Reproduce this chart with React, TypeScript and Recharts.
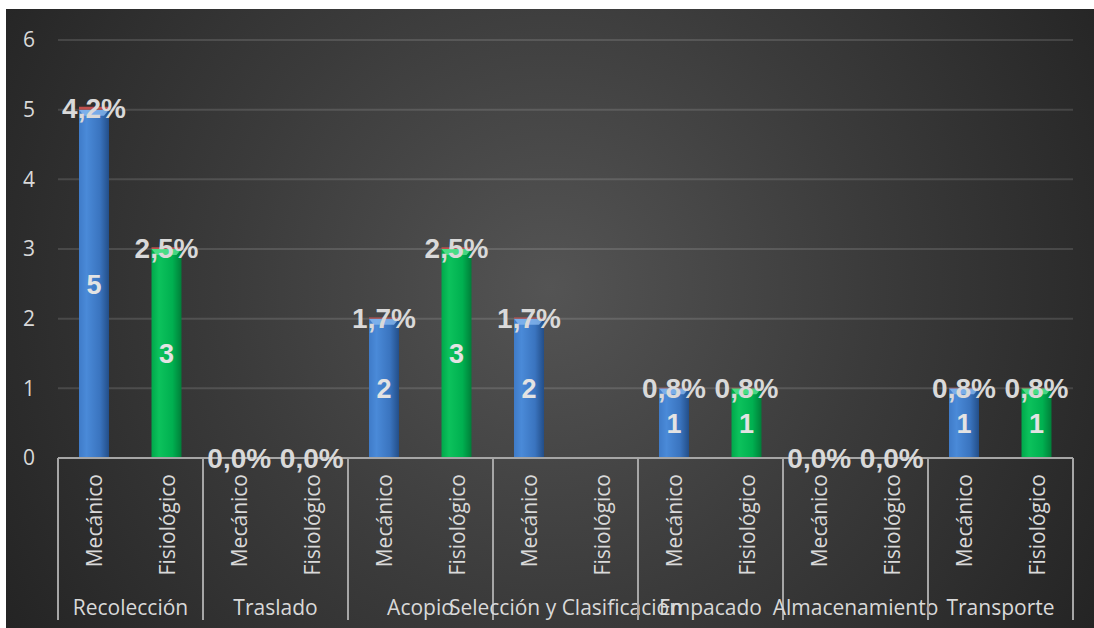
import { BarChart, Bar, XAxis, YAxis, CartesianGrid, LabelList, Cell } from 'recharts'

const STAGES = ['Recolección', 'Traslado', 'Acopio', 'Selección y Clasificación', 'Empacado', 'Almacenamiento', 'Transporte']
const TYPES = ['Mecánico', 'Fisiológico']
// one entry per stage x type, in order
const COUNTS: (number | null)[] = [5, 3, 0, 0, 2, 3, 2, null, 1, 1, 0, 0, 1, 1]
const PERCENTS: (number | null)[] = [4.2, 2.5, 0, 0, 1.7, 2.5, 1.7, null, 0.8, 0.8, 0, 0, 0.8, 0.8]
const Y_TICKS = [0, 1, 2, 3, 4, 5, 6]

const W = 1088
const H = 619
const MARGIN = { top: 31, right: 21, left: 0, bottom: 0 }
const Y_W = 52
const PLOT_W = W - MARGIN.left - MARGIN.right - Y_W
const TEXT = '#d9d9d9'
const LINE = '#a6a6a6'
const BOLD = "'Liberation Sans', Arial, sans-serif"

const data = COUNTS.map((c, i) => ({
  key: `${STAGES[Math.floor(i / 2)]}-${TYPES[i % 2]}`,
  stage: STAGES[Math.floor(i / 2)],
  type: TYPES[i % 2],
  count: c,
  pct: PERCENTS[i],
  pctBar: PERCENTS[i] == null ? null : (PERCENTS[i] as number) / 100,
}))

const fmtPct = (v: number) => `${v.toFixed(1).replace('.', ',')}%`

function CylBar(props: any) {
  const { x, y, width, height, index } = props
  if (!height || height <= 0) return null
  const mech = index % 2 === 0
  const b = Math.min(6, height / 2)
  return (
    <g>
      <rect x={x} y={y} width={width} height={height} fill={`url(#${mech ? 'gBlue' : 'gGreen'})`} />
      <polygon
        points={`${x},${y} ${x + width},${y} ${x + width - 5},${y + b} ${x + 5},${y + b}`}
        fill={mech ? '#8cbcf2' : '#5fe896'}
        opacity={0.75}
      />
    </g>
  )
}

function InsideLabel(props: any) {
  const { x, y, width, height, value } = props
  if (value == null || value === 0) return null
  return (
    <text x={x + width / 2} y={y + height / 2} dy="0.36em" textAnchor="middle" fill="#e3e3e3"
      fontFamily={BOLD} fontWeight="bold" fontSize={27}>
      {value}
    </text>
  )
}

function PctLabel(props: any) {
  const { x, y, width, height, value } = props
  if (value == null || value === 0) return null
  return (
    <text x={x + width / 2} y={y + height / 2} dy="0.36em" textAnchor="middle" fill={TEXT}
      fontFamily={BOLD} fontWeight="bold" fontSize={28}>
      {fmtPct(Number(value))}
    </text>
  )
}

function CategoryTick(props: any) {
  const { x, y, index } = props
  const band = PLOT_W / data.length
  const row = data[index]
  if (!row) return null
  const font = { fontFamily: "'Open Sans', sans-serif", fontSize: 21, fill: TEXT }
  return (
    <g>
      <text transform={`translate(${x + 8},${y + 16}) rotate(-90)`} textAnchor="end" {...font}>
        {row.type}
      </text>
      {index % 2 === 0 && (
        <>
          <line x1={x - band / 2} x2={x - band / 2} y1={y} y2={y + 162} stroke={LINE} strokeWidth={2} />
          <text x={x + band / 2} y={y + 157} textAnchor="middle" {...font}>{row.stage}</text>
        </>
      )}
      {index === data.length - 1 && (
        <line x1={x + band / 2} x2={x + band / 2} y1={y} y2={y + 162} stroke={LINE} strokeWidth={2} />
      )}
      {row.pct === 0 && (
        <text x={x} y={y} dy="0.36em" textAnchor="middle" fill={TEXT}
          fontFamily={BOLD} fontWeight="bold" fontSize={28}>
          {fmtPct(0)}
        </text>
      )}
    </g>
  )
}

export default function App() {
  return (
    <div style={{
      position: 'absolute', left: 6, top: 9, width: W, height: H,
      background: 'radial-gradient(circle 640px at 50% 45%, #545454 0%, #3b3b3b 50%, #242424 100%)',
    }}>
      <BarChart width={W} height={H} data={data} margin={MARGIN}>
        <defs>
          <linearGradient id="gBlue" x1="0" y1="0" x2="1" y2="0">
            <stop offset="0%" stopColor="#3f7bc8" />
            <stop offset="25%" stopColor="#4a8ad8" />
            <stop offset="70%" stopColor="#3a74bf" />
            <stop offset="100%" stopColor="#234e88" />
          </linearGradient>
          <linearGradient id="gGreen" x1="0" y1="0" x2="1" y2="0">
            <stop offset="0%" stopColor="#00a84b" />
            <stop offset="25%" stopColor="#0cc25c" />
            <stop offset="70%" stopColor="#00b050" />
            <stop offset="100%" stopColor="#007f39" />
          </linearGradient>
        </defs>
        <CartesianGrid vertical={false} stroke="rgba(255,255,255,0.13)" strokeWidth={2} />
        <YAxis
          width={Y_W}
          domain={[0, 6]}
          ticks={Y_TICKS}
          axisLine={false}
          tickLine={false}
          tickMargin={17}
          tick={{ fill: TEXT, fontSize: 21, fontFamily: "'Open Sans', sans-serif" }}
        />
        <XAxis
          dataKey="key"
          height={170}
          interval={0}
          tickLine={false}
          tickSize={0}
          tickMargin={0}
          axisLine={{ stroke: LINE, strokeWidth: 2 }}
          tick={CategoryTick}
        />
        <Bar dataKey="count" stackId="a" barSize={30} shape={CylBar} isAnimationActive={false}>
          {data.map((d, i) => (
            <Cell key={i} fill={i % 2 === 0 ? '#3a77c4' : '#00b050'} />
          ))}
          <LabelList dataKey="count" content={InsideLabel} />
        </Bar>
        <Bar dataKey="pctBar" stackId="a" barSize={30} fill="#c0504d" isAnimationActive={false}>
          <LabelList dataKey="pct" content={PctLabel} />
        </Bar>
      </BarChart>
    </div>
  )
}
